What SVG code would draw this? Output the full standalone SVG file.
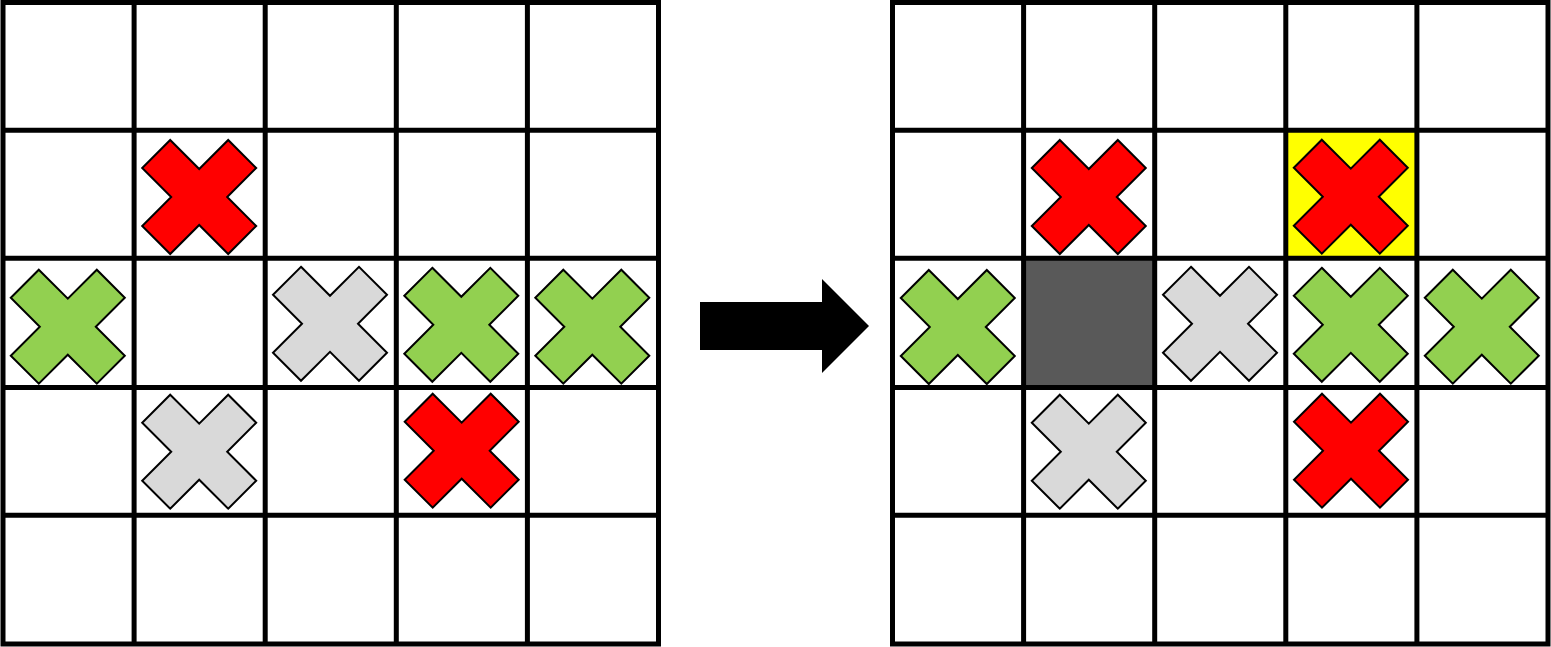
<svg xmlns="http://www.w3.org/2000/svg" xmlns:xlink="http://www.w3.org/1999/xlink" width="1551" height="647" viewBox="0 0 1551 647">
<style>
.grid{fill:none;stroke:#000;stroke-width:5;stroke-linecap:square}
.x{stroke:#000;stroke-width:2;stroke-linejoin:miter}
.red{fill:#FF0000}
.green{fill:#92D050}
.gray{fill:#D9D9D9}
</style>
<defs>
<polygon id="xs" points="-29,-57 0,-28 29,-57 57,-29 28,0 57,29 29,57 0,28 -29,57 -57,29 -28,0 -57,-29"/>
</defs>
<rect width="1551" height="647" fill="#fff"/>
<g id="left-grid">
<path class="grid" d="M3,2.5H658.5V644H3Z M134.1,2.5V644 M265.2,2.5V644 M396.3,2.5V644 M527.4,2.5V644 M3,130.3H658.5 M3,258.3H658.5 M3,387.5H658.5 M3,515.3H658.5"/>
</g>
<g id="left-marks">
<use href="#xs" class="x red" transform="translate(199.2,197)"/>
<use href="#xs" class="x green" transform="translate(67.8,326.7)"/>
<use href="#xs" class="x gray" transform="translate(330,323.8)"/>
<use href="#xs" class="x green" transform="translate(461.3,324.8)"/>
<use href="#xs" class="x green" transform="translate(592.3,326.7)"/>
<use href="#xs" class="x gray" transform="translate(199.2,451.7)"/>
<use href="#xs" class="x red" transform="translate(461.7,450.7)"/>
</g>
<g id="right-grid">
<rect x="1285.8" y="130.3" width="131.1" height="128" fill="#FFFF00"/>
<rect x="1023.6" y="258.3" width="131.1" height="129.2" fill="#595959"/>
<path class="grid" d="M892.5,2.5H1548V644H892.5Z M1023.6,2.5V644 M1154.7,2.5V644 M1285.8,2.5V644 M1416.9,2.5V644 M892.5,130.3H1548 M892.5,258.3H1548 M892.5,387.5H1548 M892.5,515.3H1548"/>
</g>
<g id="right-marks">
<use href="#xs" class="x red" transform="translate(1088.8,197)"/>
<use href="#xs" class="x red" transform="translate(1350.8,196.7)"/>
<use href="#xs" class="x green" transform="translate(957.8,327)"/>
<use href="#xs" class="x gray" transform="translate(1220,323.8)"/>
<use href="#xs" class="x green" transform="translate(1350.8,324.8)"/>
<use href="#xs" class="x green" transform="translate(1481.8,326.7)"/>
<use href="#xs" class="x gray" transform="translate(1088.8,451.7)"/>
<use href="#xs" class="x red" transform="translate(1351,450.7)"/>
</g>
<g id="connectors">
<polygon points="700,302 822,302 822,279 869,326 822,373 822,350 700,350" fill="#000"/>
</g>
</svg>
